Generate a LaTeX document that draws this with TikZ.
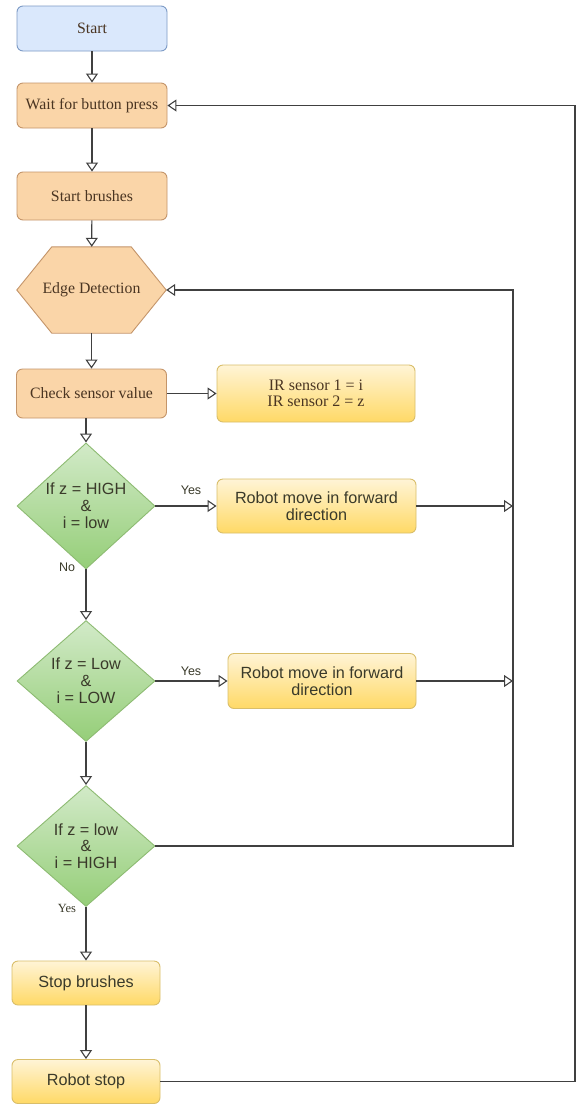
\documentclass[tikz,border=0pt]{standalone}
\usepackage{fontspec}
\setmainfont{Liberation Serif}
\newfontfamily\sansf{Liberation Sans}
\usetikzlibrary{arrows.meta,shapes.geometric,backgrounds}
\definecolor{bluefill}{HTML}{DAE8FC}
\definecolor{blueline}{HTML}{7D9BC6}
\definecolor{orfill}{HTML}{FAD5A8}
\definecolor{orline}{HTML}{C4956A}
\definecolor{yltop}{HTML}{FFF4D6}
\definecolor{ylbot}{HTML}{FFD966}
\definecolor{ylline}{HTML}{D9BE6A}
\definecolor{grtop}{HTML}{D2EAC8}
\definecolor{grbot}{HTML}{95CE78}
\definecolor{grline}{HTML}{8DBB72}
\definecolor{lnc}{HTML}{404040}
\definecolor{brtxt}{HTML}{4A3522}
\definecolor{dktxt}{HTML}{3A3A2A}
\begin{document}
\begin{tikzpicture}[x=1pt,y=-1pt,
  box/.style={rounded corners=6pt, draw, line width=0.9pt, align=center, inner sep=2pt},
  serifbox/.style={box, fill=orfill, draw=orline, text=brtxt, font=\fontsize{15.8}{16.8}\selectfont},
  startbox/.style={box, fill=bluefill, draw=blueline, text=brtxt, font=\fontsize{15.8}{16.8}\selectfont},
  ylbox/.style={box, top color=yltop, bottom color=ylbot, draw=ylline, text=dktxt, font=\sansf\fontsize{16.2}{16.8}\selectfont},
  irbox/.style={box, top color=yltop, bottom color=ylbot, draw=ylline, text=brtxt, font=\fontsize{16}{16.5}\selectfont},
  dia/.style={diamond, draw=grline, line width=0.9pt, top color=grtop, bottom color=grbot, inner sep=0pt,
     minimum width=138pt, minimum height=121pt, align=center, text=dktxt, font=\sansf\fontsize{16.2}{16.8}\selectfont},
  arr/.style={-{Triangle[fill=white,length=9pt,width=12pt,line width=1.1pt]}, draw=lnc, line width=1.2pt},
  lbl/.style={inner sep=0pt, text=dktxt, font=\sansf\fontsize{12.5}{13}\selectfont},
  slbl/.style={inner sep=0pt, text=dktxt, font=\fontsize{12.5}{13}\selectfont}
]
\useasboundingbox (0,0) rectangle (576,1104);

\node[startbox, minimum width=150pt, minimum height=45pt] (start) at (92,28.5) {Start};
\node[serifbox, minimum width=150pt, minimum height=45pt] (wait) at (92,105.5) {Wait for button press};
\node[serifbox, minimum width=150pt, minimum height=48pt] (brush) at (92,196) {Start brushes};
\node[inner sep=0pt, minimum width=149pt, minimum height=86pt, text=brtxt, font=\fontsize{15.8}{16.8}\selectfont] (edge) at (91.5,290) {Edge Detection};
\begin{pgfonlayer}{background}
\fill[white] (0,0) rectangle (576,1104);
\filldraw[fill=orfill, draw=orline, line width=0.9pt] (edge.west) -- ([xshift=35pt]edge.north west) -- ([xshift=-35pt]edge.north east) -- (edge.east) -- ([xshift=-35pt]edge.south east) -- ([xshift=35pt]edge.south west) -- cycle;
\end{pgfonlayer}
\node[serifbox, minimum width=150pt, minimum height=49pt] (check) at (91.5,393.5) {Check sensor value};
\node[irbox, minimum width=198pt, minimum height=57pt] (ir) at (316,393.5) {IR sensor 1 = i\\IR sensor 2 = z};

\node[dia] (d1) at (86,506) {If z = HIGH\\\&\\i = low};
\node[ylbox, minimum width=199pt, minimum height=54pt] (m1) at (316.5,506) {Robot move in forward\\direction};
\node[dia] (d2) at (86,681) {If z = Low\\\&\\i = LOW};
\node[ylbox, minimum width=188pt, minimum height=55pt] (m2) at (322,681) {Robot move in forward\\direction};
\node[dia] (d3) at (86,846) {If z = low\\\&\\i = HIGH};
\node[ylbox, minimum width=148pt, minimum height=44pt] (stopb) at (86,983) {Stop brushes};
\node[ylbox, minimum width=148pt, minimum height=44pt] (rstop) at (86,1081.5) {Robot stop};

\node[lbl] (yes1) at (191,490) {Yes};
\node[lbl] (yes2) at (191,671) {Yes};
\node[lbl] (no1) at (67,567) {No};
\node[slbl] (yes3) at (67,908) {Yes};

\coordinate (busx) at (513,0);
\coordinate (rightx) at (575,0);

\draw[arr] (start) -- (wait);
\draw[arr] (wait) -- (brush);
\draw[arr] (brush) -- (edge);
\draw[arr] (edge) -- (check);
\draw[arr] (check) -- (ir);
\draw[arr] (check.south -| d1.north) -- (d1.north);
\draw[arr] (d1) -- (m1);
\draw[arr] (m1.east) -- (m1.east -| busx);
\draw[arr] (d1) -- (d2);
\draw[arr] (d2) -- (m2);
\draw[arr] (m2.east) -- (m2.east -| busx);
\draw[arr] (d2) -- (d3);
\draw[arr] (d3.east) -| (busx |- edge.east) -- (edge.east);
\draw[arr] (d3) -- (stopb);
\draw[arr] (stopb) -- (rstop);
\draw[arr] (rstop.east) -- (rightx |- rstop.east) |- (wait.east);
\end{tikzpicture}
\end{document}
